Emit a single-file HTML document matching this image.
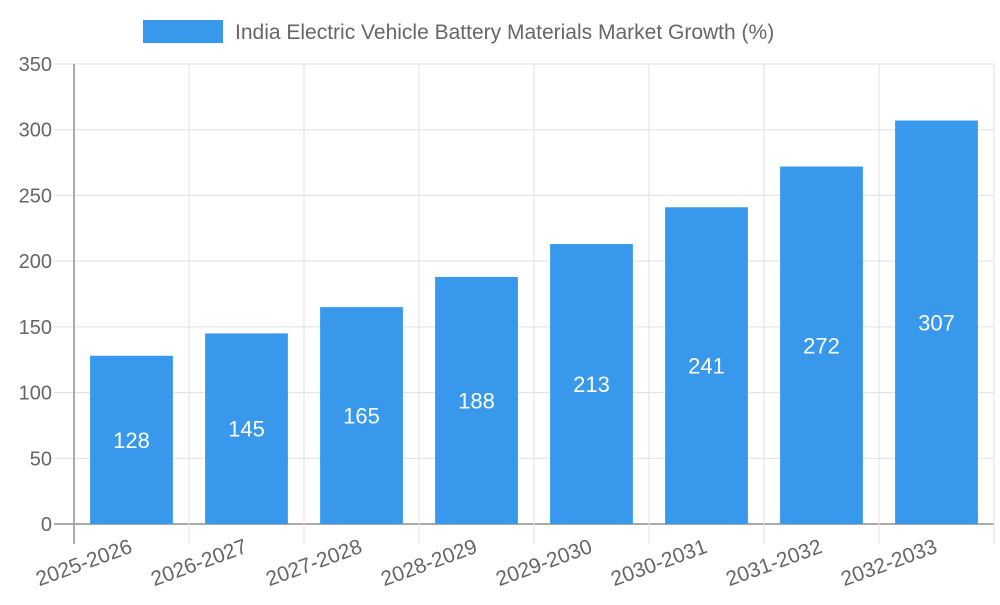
<!DOCTYPE html>
<html><head><meta charset="utf-8"><style>
body{margin:0;background:#fff;width:1000px;height:600px;overflow:hidden}
svg{font-family:"Liberation Sans",sans-serif}
</style></head><body>
<svg width="1000" height="600">
<g>
<rect x="143" y="20" width="80" height="23" fill="#3899ec"/>
<text x="235" y="39" font-size="21" fill="#666">India Electric Vehicle Battery Materials Market Growth (%)</text>
</g>
<g id="grid"></g><g id="bars"></g><g id="axes"></g>
</svg>
<script>
const categories=["2025-2026","2026-2027","2027-2028","2028-2029","2029-2030","2030-2031","2031-2032","2032-2033"];
const values=[128,145,165,188,213,241,272,307];
const yTicks=[0,50,100,150,200,250,300,350];
const L=74,R=994,T=64,B=524,yMax=350;
const NS="http://www.w3.org/2000/svg";
const y=v=>B-(v/yMax)*(B-T);
const bw=(R-L)/categories.length;
const x=i=>L+i*bw;
function mk(tag,attrs,parent,txt){const e=document.createElementNS(NS,tag);for(const k in attrs)e.setAttribute(k,attrs[k]);if(txt!==undefined)e.textContent=txt;document.getElementById(parent).appendChild(e);return e;}
yTicks.forEach(t=>{
 const g=mk('line',{x1:L-20,x2:R,y1:y(t),y2:y(t),stroke:t===0?'#aaa':'#e0e0e0','stroke-width':t===0?2:1},'grid');
 
 
 const tl=mk('text',{x:L-22,y:y(t)+7,'text-anchor':'end','font-size':20,fill:'#666'},'axes',t);
 
 
});
for(let i=0;i<=categories.length;i++){
 const g=mk('line',{x1:x(i),x2:x(i),y1:T,y2:B+20,stroke:i===0?'#aaa':'#e0e0e0','stroke-width':i===0?2:1},'grid');
 
 
}
categories.forEach((c,i)=>{
 const cx=x(i)+bw/2,w=bw*0.72;
 const r=mk('rect',{x:cx-w/2,y:y(values[i]),width:w,height:B-y(values[i]),fill:'#3899ec'},'bars');
 
 
 const v=mk('text',{x:cx,y:(y(values[i])+B)/2+8,'text-anchor':'middle','font-size':22,fill:'#fff'},'bars',values[i]);
 
 
 const t=mk('text',{x:0,y:0,'text-anchor':'end','font-size':21,fill:'#666',transform:`translate(${cx+2},${B+28}) rotate(-20)`},'axes',c);
 
 
});
</script>
</body></html>
